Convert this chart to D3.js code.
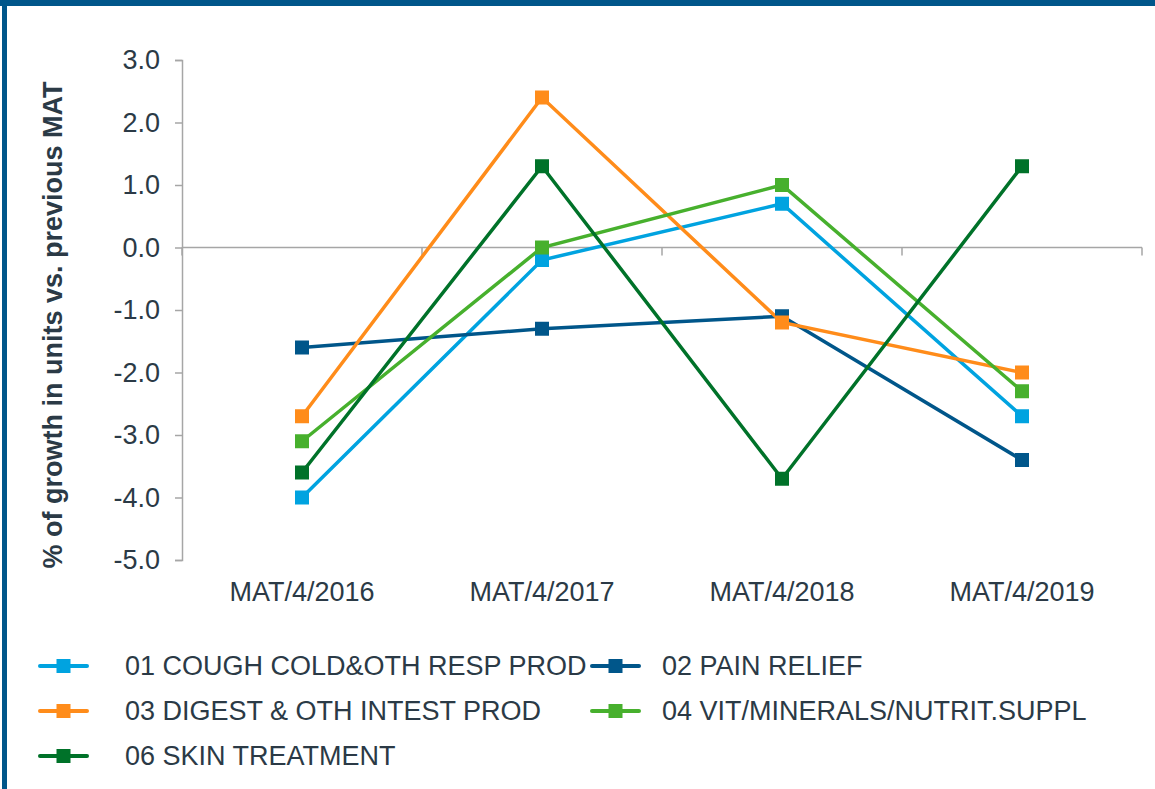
<!DOCTYPE html>
<html>
<head>
  <meta charset="utf-8">
  <title>Growth vs previous MAT</title>
  <script src="https://d3js.org/d3.v7.min.js"></script>
  <style>
    body { margin: 0; background: #fff; }
    text { font-family: "Liberation Sans", Arial, sans-serif; fill: #2b3a46; }
  </style>
</head>
<body>
  <div id="chart"></div>
  <script>
  const categories = ["MAT/4/2016", "MAT/4/2017", "MAT/4/2018", "MAT/4/2019"];
  const seriesNames = [
    "01 COUGH COLD&OTH RESP PROD",
    "02 PAIN RELIEF",
    "03 DIGEST & OTH INTEST PROD",
    "04 VIT/MINERALS/NUTRIT.SUPPL",
    "06 SKIN TREATMENT"
  ];
  const cough = [-4.0, -0.2, 0.7, -2.7];
  const pain = [-1.6, -1.3, -1.1, -3.4];
  const digest = [-2.7, 2.4, -1.2, -2.0];
  const vit = [-3.1, 0.0, 1.0, -2.3];
  const skin = [-3.6, 1.3, -3.7, 1.3];
  const yTicks = [3, 2, 1, 0, -1, -2, -3, -4, -5];
  const colors = ["#00a3e0", "#00568a", "#ff8c1a", "#47b02d", "#007229"];

  const series = [cough, pain, digest, vit, skin].map((v, i) => ({ name: seriesNames[i], values: v, color: colors[i] }));

  const W = 1155, H = 789;
  const svg = d3.select("#chart").append("svg").attr("width", W).attr("height", H);

  // frame
  svg.append("rect").attr("x", 0).attr("y", 0).attr("width", W).attr("height", 6).attr("fill", "#00568a");
  svg.append("rect").attr("x", 2).attr("y", 0).attr("width", 5).attr("height", H).attr("fill", "#00568a");

  const plotLeft = 182, plotRight = 1142, plotTop = 60, plotBottom = 560;
  const fs = "27px";

  const x = d3.scaleBand().domain(categories).range([plotLeft, plotRight]);
  const y = d3.scaleLinear().domain([-5, 3]).range([plotBottom, plotTop]);

  // y axis
  const yAxis = svg.append("g")
    .attr("transform", `translate(${plotLeft},0)`)
    .call(d3.axisLeft(y).tickValues(yTicks).tickFormat(d => d.toFixed(1)).tickSize(7).tickPadding(15));
  yAxis.select(".domain").attr("stroke", "#a6a6a6").attr("stroke-width", 1.5);
  yAxis.selectAll(".tick line").attr("stroke", "#a6a6a6").attr("stroke-width", 1.5);
  yAxis.selectAll(".tick text").style("font-size", fs).attr("fill", "#2b3a46");

  // x axis at zero
  const xAxis = svg.append("g")
    .attr("transform", `translate(0,${y(0)})`)
    .call(d3.axisBottom(x).tickSize(0).tickFormat(""));
  xAxis.select(".domain").attr("stroke", "#a6a6a6").attr("stroke-width", 1.5).attr("d", `M${plotLeft},0H${plotRight}`);
  xAxis.selectAll(".tick").remove();
  const bounds = categories.map(c => x(c)).concat([plotRight]);
  xAxis.selectAll("line.bt").data(bounds).enter().append("line")
    .attr("x1", d => d).attr("x2", d => d).attr("y1", 0).attr("y2", 8)
    .attr("stroke", "#a6a6a6").attr("stroke-width", 1.5);

  // category labels
  svg.append("g").selectAll("text").data(categories).enter().append("text")
    .attr("x", d => x(d) + x.bandwidth() / 2)
    .attr("y", 601)
    .attr("text-anchor", "middle")
    .style("font-size", fs)
    .text(d => d);

  // y title
  svg.append("text")
    .attr("transform", `translate(62,325) rotate(-90)`)
    .attr("text-anchor", "middle")
    .style("font-size", fs)
    .style("font-weight", "bold")
    .text("% of growth in units vs. previous MAT");

  const cx = d => x(d) + x.bandwidth() / 2;
  const line = d3.line().x((d, i) => cx(categories[i])).y(d => y(d));

  const g = svg.append("g");
  series.forEach(s => {
    g.append("path").attr("d", line(s.values)).attr("fill", "none")
      .attr("stroke", s.color).attr("stroke-width", 3.5);
  });
  series.forEach(s => {
    g.selectAll(null).data(s.values).enter().append("rect")
      .attr("x", (d, i) => cx(categories[i]) - 7)
      .attr("y", d => y(d) - 7)
      .attr("width", 14).attr("height", 14)
      .attr("fill", s.color);
  });

  // legend: [line start x, text x, y]
  const legendPos = [
    [40, 125, 666], [592, 662, 666], [40, 125, 711], [592, 662, 711], [40, 125, 756]
  ];
  const lg = svg.append("g");
  series.forEach((s, i) => {
    const [lx, tx, ly] = legendPos[i];
    lg.append("line").attr("x1", lx).attr("x2", lx + 47).attr("y1", ly).attr("y2", ly)
      .attr("stroke", s.color).attr("stroke-width", 4).attr("stroke-linecap", "round");
    lg.append("rect").attr("x", lx + 16.5).attr("y", ly - 7).attr("width", 14).attr("height", 14).attr("fill", s.color);
    lg.append("text").attr("x", tx).attr("y", ly + 9).style("font-size", fs).text(s.name);
  });
  </script>
</body>
</html>
